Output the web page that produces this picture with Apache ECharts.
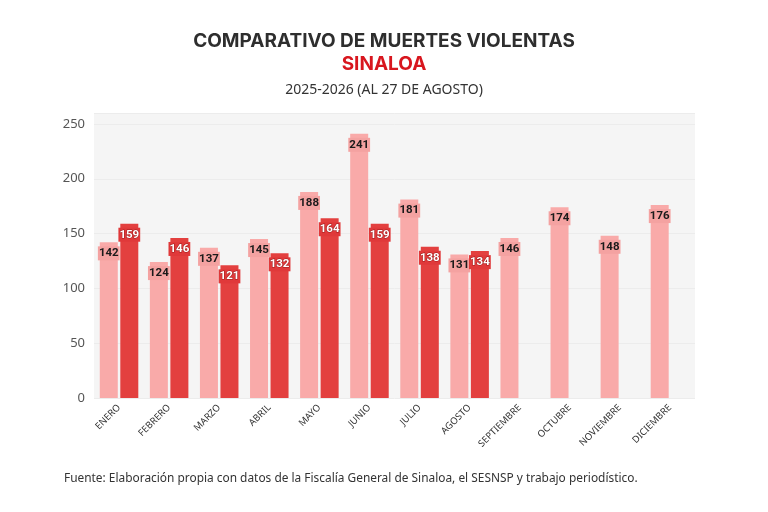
<!DOCTYPE html>
<html lang="es">
    <head>
        <meta charset="UTF-8">
        <title>Comparativo de muertes violentas Sinaloa</title>
        <script src="https://cdn.jsdelivr.net/npm/echarts@6.0.0/dist/echarts.min.js"></script>
        <style>
            html, body { margin: 0; padding: 0; background: #fff; }
            #Main { width: 768px; height: 512px; }
        </style>
    </head>
    <body>
        <div id="Main"></div>
        <script type="text/javascript">
            // datos del gráfico
            var meses = ['ENERO', 'FEBRERO', 'MARZO', 'ABRIL', 'MAYO', 'JUNIO', 'JULIO',
                'AGOSTO', 'SEPTIEMBRE', 'OCTUBRE', 'NOVIEMBRE', 'DICIEMBRE'];
            var datos2025 = [142, 124, 137, 145, 188, 241, 181, 131, 146, 174, 148, 176];
            var datos2026 = [159, 146, 121, 132, 164, 159, 138, 134, null, null, null, null];
            var ejeY = { min: 0, max: 260, interval: 50 };

            var myChart = echarts.init(document.getElementById('Main'));

            myChart.setOption({
                animation: false,
                backgroundColor: '#ffffff',
                title: [{
                    text: 'COMPARATIVO DE MUERTES VIOLENTAS',
                    left: 'center',
                    top: 27,
                    textStyle: { fontFamily: 'Inter', fontWeight: 'bold', fontSize: 19, color: '#2e2e2e' }
                }, {
                    text: 'SINALOA',
                    left: 'center',
                    top: 50,
                    textStyle: { fontFamily: 'Inter', fontWeight: 'bold', fontSize: 19, color: '#d8161e' }
                }, {
                    text: '2025-2026 (AL 27 DE AGOSTO)',
                    left: 'center',
                    top: 78,
                    textStyle: { fontFamily: 'Noto Sans', fontWeight: 'normal', fontSize: 14, color: '#333' }
                }, {
                    text: 'Fuente: Elaboración propia con datos de la Fiscalía General de Sinaloa, el SESNSP y trabajo periodístico.',
                    left: 59,
                    top: 468,
                    textStyle: { fontFamily: 'Noto Sans', fontWeight: 'normal', fontSize: 11.9, color: '#333' }
                }],
                grid: {
                    left: 94,
                    right: 73,
                    top: 113,
                    bottom: 114,
                    show: true,
                    backgroundColor: '#f5f5f5',
                    borderWidth: 0
                },
                xAxis: {
                    type: 'category',
                    data: meses,
                    axisLine: { show: false },
                    axisTick: { show: false },
                    axisLabel: {
                        rotate: 45,
                        interval: 0,
                        margin: 8,
                        fontFamily: 'Noto Sans',
                        fontSize: 9.5,
                        color: '#333'
                    }
                },
                yAxis: {
                    type: 'value',
                    min: ejeY.min,
                    max: ejeY.max,
                    interval: ejeY.interval,
                    axisLine: { show: false },
                    axisTick: { show: false },
                    axisLabel: {
                        margin: 9,
                        fontFamily: 'Noto Sans',
                        fontSize: 13,
                        color: '#555'
                    },
                    splitLine: { lineStyle: { color: '#ececec', width: 1 } }
                },
                series: [{
                    name: '2025',
                    type: 'bar',
                    data: datos2025,
                    barWidth: 18,
                    barGap: '14%',
                    itemStyle: { color: '#f9aaa9' },
                    label: {
                        show: true,
                        position: 'insideTop',
                        distance: 4,
                        fontFamily: 'Roboto',
                        fontWeight: 'bold',
                        fontSize: 11.5,
                        color: '#1a1a1a',
                        backgroundColor: '#f4a2a1',
                        padding: [1, 1]
                    }
                }, {
                    name: '2026',
                    type: 'bar',
                    data: datos2026,
                    barWidth: 18,
                    itemStyle: { color: '#e3403f' },
                    label: {
                        show: true,
                        position: 'insideTop',
                        distance: 4,
                        fontFamily: 'Roboto',
                        fontWeight: 'bold',
                        fontSize: 11.5,
                        color: '#ffffff',
                        textBorderColor: '#9a1c1c',
                        textBorderWidth: 1,
                        backgroundColor: '#e0393a',
                        padding: [1, 1]
                    }
                }]
            });
        </script>
    </body>
</html>
